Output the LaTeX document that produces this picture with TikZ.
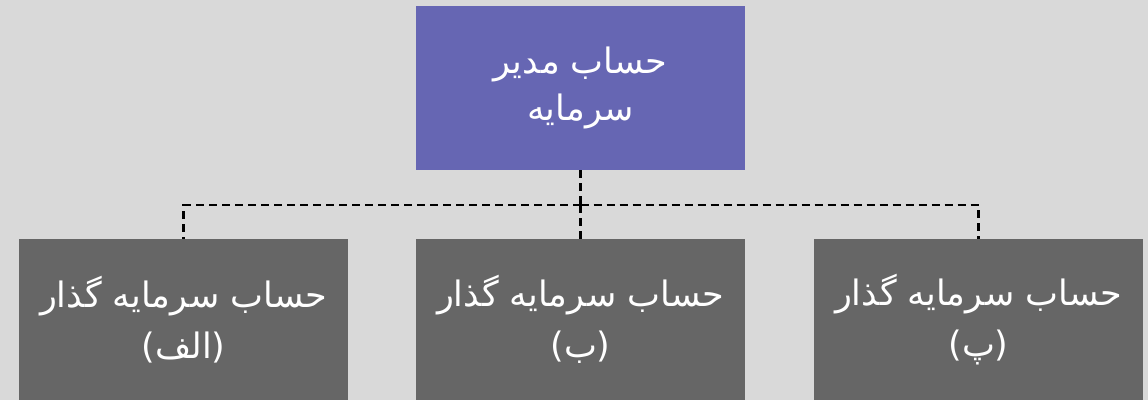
\documentclass[tikz,border=0pt]{standalone}
\usepackage{fontspec}
\newfontfamily\arabicfont[Script=Arabic]{DejaVu Sans}
\TeXXeTstate=1
\definecolor{bgc}{HTML}{D9D9D9}
\definecolor{topc}{HTML}{6666B3}
\definecolor{boxc}{HTML}{666666}
\begin{document}
\begin{tikzpicture}[x=1pt,y=-1pt,
  topbox/.style={fill=topc,draw=none,minimum width=329pt,minimum height=164pt,inner sep=0pt,
    text=white,align=center,font=\arabicfont\fontsize{35}{47}\selectfont},
  leafbox/.style={fill=boxc,draw=none,minimum width=329pt,minimum height=161pt,inner sep=0pt,
    text=white,align=center,font=\arabicfont\fontsize{35}{51}\selectfont},
  conn/.style={draw=black,line width=2.5pt,dash pattern=on 8pt off 5pt}]
\fill[bgc] (0,0) rectangle (1148,400);
\useasboundingbox (0,0) rectangle (1148,400);
\node[topbox,anchor=north] (top) at (580.5,6) {\beginR حساب مدیر\endR\\\beginR سرمایه\endR};
\node[leafbox,anchor=north] (a) at (183.5,239) {\beginR حساب سرمایه گذار\endR\\\beginR (الف)\endR};
\node[leafbox,anchor=north] (b) at (580.5,239) {\beginR حساب سرمایه گذار\endR\\\beginR (ب)\endR};
\node[leafbox,anchor=north] (c) at (978.5,239) {\beginR حساب سرمایه گذار\endR\\\beginR (پ)\endR};
\coordinate (j) at (580.5,205);
\draw[conn] (top.south) -- (j);
\draw[conn] (j) -- (b.north);
\draw[conn] (j) -| (a.north);
\draw[conn] (j) -| (c.north);
\end{tikzpicture}
\end{document}
